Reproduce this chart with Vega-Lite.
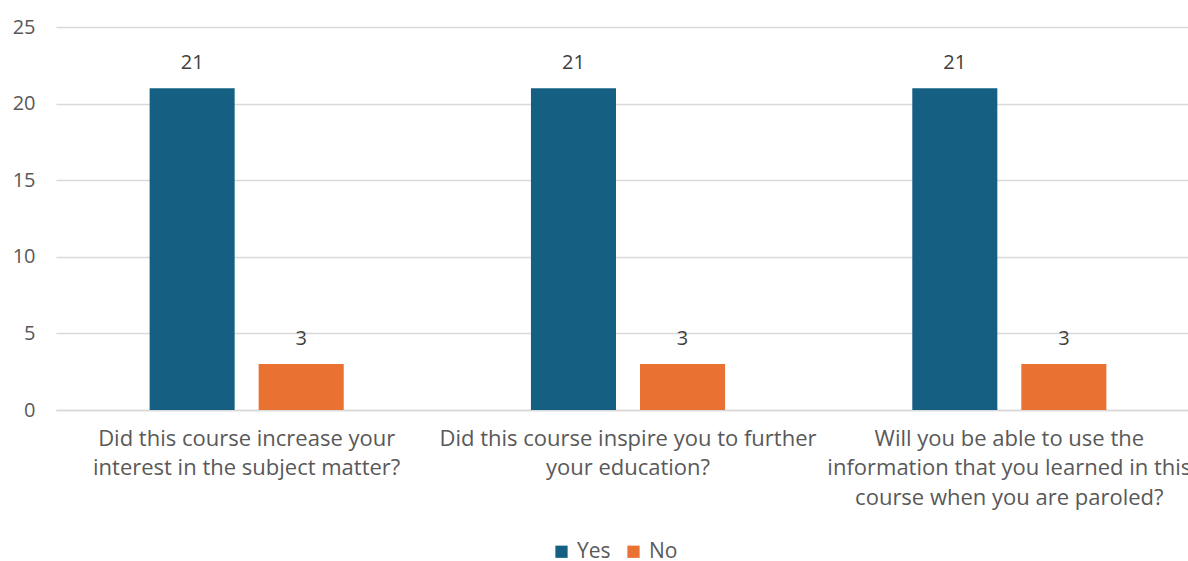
{
  "$schema": "https://vega.github.io/schema/vega-lite/v6.json",
  "autosize": {"type": "none"},
  "width": 1132,
  "height": 383,
  "padding": {"left": 56, "top": 27, "right": 0, "bottom": 151},
  "background": "white",
  "config": {
    "view": {"stroke": null},
    "font": "Open Sans",
    "axis": {"labelFont": "Open Sans", "labelColor": "#595959", "labelFontSize": 20},
    "legend": {"labelFont": "Open Sans", "labelColor": "#595959", "labelFontSize": 21}
  },
  "data": {
    "values": [
      {"question": "Did this course increase your interest in the subject matter?", "answer": "Yes", "count": 21},
      {"question": "Did this course increase your interest in the subject matter?", "answer": "No", "count": 3},
      {"question": "Did this course inspire you to further your education?", "answer": "Yes", "count": 21},
      {"question": "Did this course inspire you to further your education?", "answer": "No", "count": 3},
      {"question": "Will you be able to use the information that you learned in this course when you are paroled?", "answer": "Yes", "count": 21},
      {"question": "Will you be able to use the information that you learned in this course when you are paroled?", "answer": "No", "count": 3}
    ]
  },
  "encoding": {
    "x": {
      "field": "question",
      "type": "nominal",
      "sort": null,
      "title": null,
      "scale": {"range": [0, 1144], "paddingInner": 0.491, "paddingOuter": 0.2455},
      "axis": {
        "labelAngle": 0,
        "ticks": false,
        "domain": true,
        "domainColor": "#D9D9D9",
        "domainWidth": 1.5,
        "labelPadding": 18,
        "labelFontSize": 22,
        "labelLineHeight": 29.5,
        "labelBaseline": "top",
        "labelLimit": 0,
        "labelExpr": "datum.value == 'Did this course increase your interest in the subject matter?' ? ['Did this course increase your', 'interest in the subject matter?'] : datum.value == 'Did this course inspire you to further your education?' ? ['Did this course inspire you to further', 'your education?'] : ['Will you be able to use the', 'information that you learned in this', 'course when you are paroled?']"
      }
    },
    "xOffset": {
      "field": "answer",
      "type": "nominal",
      "sort": ["Yes", "No"],
      "scale": {"paddingInner": 0.22, "paddingOuter": 0}
    },
    "y": {
      "field": "count",
      "type": "quantitative",
      "title": null,
      "scale": {"domain": [0, 25]},
      "axis": {
        "values": [0, 5, 10, 15, 20, 25],
        "ticks": false,
        "domain": false,
        "gridColor": "#D9D9D9",
        "gridWidth": 1.5,
        "labelPadding": 21
      }
    }
  },
  "layer": [
    {
      "mark": {"type": "bar"},
      "encoding": {
        "color": {
          "field": "answer",
          "type": "nominal",
          "sort": ["Yes", "No"],
          "scale": {"domain": ["Yes", "No"], "range": ["#156082", "#E97132"]},
          "legend": {
            "title": null,
            "orient": "none",
            "direction": "horizontal",
            "legendX": 495,
            "legendY": 514,
            "symbolType": "square",
            "symbolSize": 150,
            "symbolStrokeWidth": 0,
            "columnPadding": 12,
            "labelOffset": 5
          }
        }
      }
    },
    {
      "mark": {"type": "text", "baseline": "alphabetic", "dy": -19, "fontSize": 20, "color": "#404040", "font": "Open Sans"},
      "encoding": {
        "text": {"field": "count", "type": "quantitative"}
      }
    }
  ]
}
